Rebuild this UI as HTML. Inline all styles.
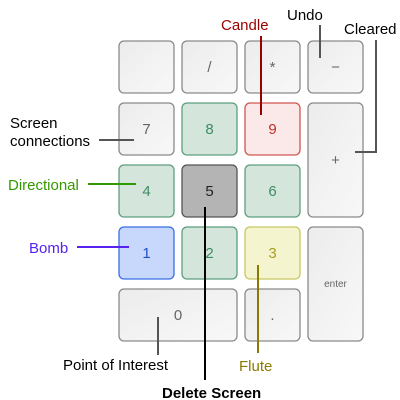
<!DOCTYPE html>
<html><head><meta charset="utf-8"><style>
body{margin:0;width:400px;height:400px;background:#fff;overflow:hidden;font-family:"Liberation Sans",sans-serif}
svg{display:block}
</style></head><body>
<svg width="400" height="400" viewBox="0 0 400 400">
<defs>
<linearGradient id="gw" x1="0" y1="0" x2="1" y2="1"><stop offset="0" stop-color="#ececec"/><stop offset="1" stop-color="#f8f8f8"/></linearGradient>
</defs>
<g id="keys" font-size="15" text-anchor="middle"></g>
<g id="callouts"></g>
</svg>
<script>
const keyLabels=["","/","*","−","7","8","9","+","4","5","6","1","2","3","enter","0","."];
const keyCols=[0,1,2,3,0,1,2,3,0,1,2,0,1,2,3,0,2];
const keyRows=[0,0,0,0,1,1,1,1,2,2,2,3,3,3,3,4,4];
const keyW=[1,1,1,1,1,1,1,1,1,1,1,1,1,1,1,2,1];
const keyH=[1,1,1,1,1,1,1,2,1,1,1,1,1,1,2,1,1];
const keyStyle=["w","w","w","w","w","g","r","w","g","k","g","b","g","y","w","w","w"];
const styles={w:["url(#gw)","#8a8a8a","#666"],g:["#d4e6dc","#5e9e7e","#3d8c63"],r:["#fbe8e8","#d0564f","#c0302a"],k:["#b4b4b4","#555","#222"],b:["#c8d8fc","#3a6fe6","#2250c8"],y:["#f4f4cf","#c8c860","#a8a020"]};
const ns="http://www.w3.org/2000/svg";
const kg=document.getElementById('keys');
const x0=119,y0=41,pitchX=63,pitchY=62,kw=55,kh=52;
keyLabels.forEach((lab,i)=>{
  const s=styles[keyStyle[i]];
  const x=x0+keyCols[i]*pitchX,y=y0+keyRows[i]*pitchY;
  const w=kw+(keyW[i]-1)*pitchX,h=kh+(keyH[i]-1)*pitchY;
  const g=document.createElementNS(ns,'g');
  
  
  const r=document.createElementNS(ns,'rect');
  r.setAttribute('x',x);r.setAttribute('y',y);r.setAttribute('width',w);r.setAttribute('height',h);
  r.setAttribute('rx',5);r.setAttribute('fill',s[0]);r.setAttribute('stroke',s[1]);r.setAttribute('stroke-width',1.3);
  g.appendChild(r);
  const t=document.createElementNS(ns,'text');
  t.setAttribute('x',x+w/2+(lab==="0"?0:0));t.setAttribute('y',y+h/2+5);
  t.setAttribute('fill',s[2]);
  if(lab==="enter"){t.setAttribute('font-size','10');t.setAttribute('y',y+h/2+3);}
  t.textContent=lab;
  g.appendChild(t);
  kg.appendChild(g);
});
const cg=document.getElementById('callouts');
const callouts=[
 ["candle","Candle","#990000","M261 36V115",[[221,30]],"normal"],
 ["undo","Undo","#000","M320 25V58",[[287,20]],"normal"],
 ["cleared","Cleared","#000","M376 40V152H355",[[344,34]],"normal"],
 ["screen-connections","Screen|connections","#000","M99 140H134",[[10,128],[10,146]],"normal"],
 ["directional","Directional","#339900","M88 184H136",[[8,190]],"normal"],
 ["bomb","Bomb","#5522ee","M77 247H129",[[29,253]],"normal"],
 ["point-of-interest","Point of Interest","#000","M158 317V355",[[63,370]],"normal"],
 ["flute","Flute","#8a7a00","M258 265V353",[[239,371]],"normal"],
 ["delete-screen","Delete Screen","#000","M205 207V380",[[162,398]],"bold"]
];
callouts.forEach(c=>{
  const p=document.createElementNS(ns,'path');
  p.setAttribute('d',c[3]);p.setAttribute('fill','none');
  p.setAttribute('stroke',c[2]==="#000"?(c[0]==="delete-screen"?"#000":"#555"):c[2]);p.setAttribute('stroke-width',2);
  
  
  cg.appendChild(p);
  c[1].split('|').forEach((line,j)=>{
    const t=document.createElementNS(ns,'text');
    t.setAttribute('x',c[4][j][0]);t.setAttribute('y',c[4][j][1]);
    t.setAttribute('fill',c[2]);t.setAttribute('font-size','15');t.setAttribute('font-weight',c[5]);
    
    
    t.textContent=line;
    cg.appendChild(t);
  });
});
</script>
</body></html>
